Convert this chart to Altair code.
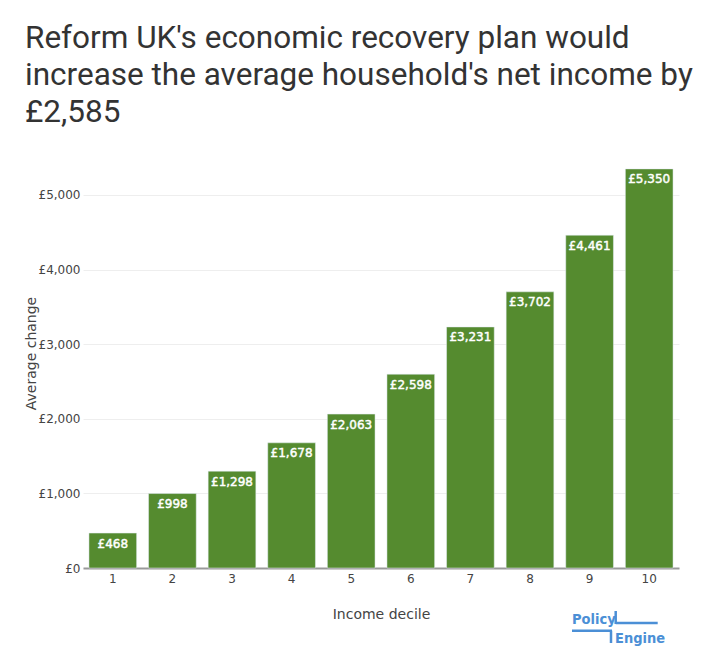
import altair as alt
import pandas as pd

deciles = [1, 2, 3, 4, 5, 6, 7, 8, 9, 10]
avg_change = [468, 998, 1298, 1678, 2063, 2598, 3231, 3702, 4461, 5350]
title_lines = ["Reform UK's economic recovery plan would",
               "increase the average household's net income by",
               "£2,585"]
y_ticks = [0, 1000, 2000, 3000, 4000, 5000]

df = pd.DataFrame({"decile": deciles, "change": avg_change})
df["label"] = ["£" + f"{v:,}" for v in avg_change]

W, H = 596, 420
FONT = "DejaVu Sans"
GREEN = "#558B2F"
BLUE = "#4B8FD6"
LOGO_FONT = "'DejaVu Sans Condensed', 'Liberation Sans', sans-serif"

x_enc = alt.X("decile:O", title="Income decile",
              scale=alt.Scale(paddingInner=0.2, paddingOuter=0.1),
              axis=alt.Axis(labelAngle=0, ticks=False, tickSize=0, labelPadding=5,
                            labelFont=FONT, labelFontSize=12, labelColor="#444",
                            titleFont=FONT, titleFontSize=14, titleColor="#444",
                            titleFontWeight="normal", titleY=46, titleBaseline="middle",
                            domainColor="#999", domainWidth=2, grid=False))
y_scale = alt.Scale(domain=[0, 5630], nice=False)

bars = alt.Chart(df).mark_bar(color=GREEN, stroke="#E5ECF6", strokeWidth=0.5).encode(
    x=x_enc,
    y=alt.Y("change:Q", title="Average change", scale=y_scale,
            axis=alt.Axis(values=y_ticks, ticks=False, tickSize=0, labelPadding=3,
                          labelExpr="'£' + format(datum.value, ',')",
                          labelFont=FONT, labelFontSize=12, labelColor="#444",
                          titleFont=FONT, titleFontSize=14, titleColor="#444",
                          titleFontWeight="normal", titleX=-52, titleY=205,
                          titleBaseline="middle",
                          gridColor="#EEEEEE", gridWidth=1, domain=False)),
)

labels = alt.Chart(df).mark_text(color="white", font=FONT, fontSize=12,
                                 stroke="white", strokeWidth=0.45,
                                 baseline="top", dy=5.5).encode(
    x="decile:O",
    y=alt.Y("change:Q", scale=y_scale),
    text="label:N",
)

logo_df = pd.DataFrame({"t": ["Policy"]})
logo_p = alt.Chart(logo_df).mark_text(font=LOGO_FONT, fontWeight="bold",
                                      fontSize=14.5, color=BLUE, align="left",
                                      baseline="alphabetic").encode(
    x=alt.value(489), y=alt.value(476), text="t:N")
logo_df2 = pd.DataFrame({"t": ["Engine"]})
logo_e = alt.Chart(logo_df2).mark_text(font=LOGO_FONT, fontWeight="bold",
                                       fontSize=14.5, color=BLUE, align="left",
                                       baseline="alphabetic").encode(
    x=alt.value(532), y=alt.value(495), text="t:N")

def rule(x1, x2, y1, y2):
    return alt.Chart(logo_df).mark_rule(color=BLUE, strokeWidth=2.5).encode(
        x=alt.value(x1), x2=alt.value(x2), y=alt.value(y1), y2=alt.value(y2))

r1 = rule(532.7, 532.7, 463, 476)
r2 = rule(532.7, 574.7, 475, 475)
r3 = rule(489, 529, 482.7, 482.7)
r4 = rule(528, 528, 482.7, 495)

chart = alt.layer(bars, labels, logo_p, logo_e, r1, r2, r3, r4).properties(
    width=W, height=H,
    background="white",
    autosize=alt.AutoSizeParams(type="none"),
    padding={"left": 75, "top": 140, "right": 27, "bottom": 80},
    title=alt.TitleParams(title_lines, anchor="start", frame="group", dx=-58,
                          font="Roboto", fontSize=31.5, fontWeight="normal",
                          color="#333", lineHeight=37, offset=20),
).configure_view(strokeWidth=0)

chart.save("out.html", embed_options={"renderer": "svg", "actions": False})
